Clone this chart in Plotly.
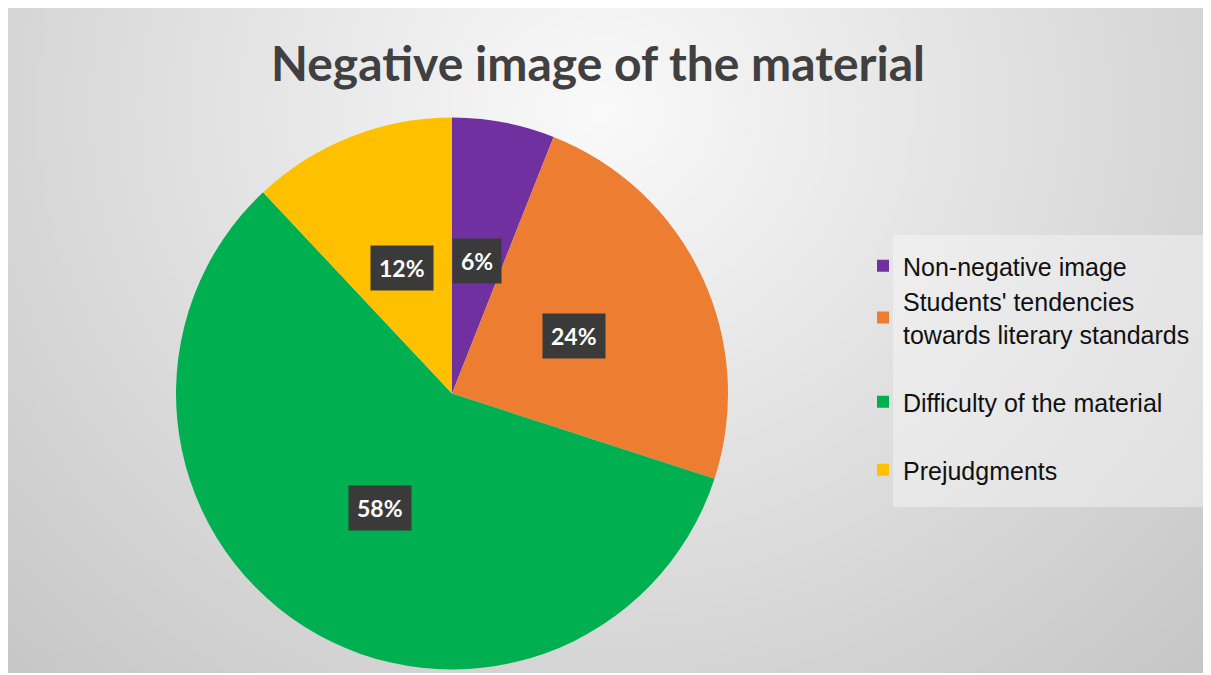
import base64
import math
import struct
import zlib

import numpy as np
import plotly.graph_objects as go

# ---- data ----
labels = [
    "Non-negative image",
    "Students' tendencies<br>towards literary standards",
    "&nbsp;<br>Difficulty of the material<br>&nbsp;",
    "Prejudgments",
]
values = [6, 24, 58, 12]
colors = ["#7030A0", "#ED7D31", "#00B050", "#FFC000"]
title_text = "Negative image of the material"

# figure size (the page adds an 8px body margin on the left/top)
W, H = 1211, 665

# ---- background gradient image (generated, embedded as PNG) ----
def make_png(arr):
    h, w = arr.shape
    raw = b"".join(b"\x00" + arr[i].tobytes() for i in range(h))

    def chunk(tag, data):
        c = struct.pack(">I", len(data)) + tag + data
        return c + struct.pack(">I", zlib.crc32(tag + data) & 0xFFFFFFFF)

    ihdr = struct.pack(">IIBBBBB", w, h, 8, 0, 0, 0, 0)
    return (b"\x89PNG\r\n\x1a\n" + chunk(b"IHDR", ihdr)
            + chunk(b"IDAT", zlib.compress(raw, 9)) + chunk(b"IEND", b""))

gw, gh = 300, 166
gx = np.linspace(0, W, gw)[None, :]
gy = np.linspace(0, H, gh)[:, None]
d = np.sqrt(((gx - 592) / 700.0) ** 2 + ((gy - 100) / 650.0) ** 2)
bg = np.clip(250 - 42 * d, 190, 250).astype(np.uint8)
bg_uri = "data:image/png;base64," + base64.b64encode(make_png(bg)).decode()

# ---- pie geometry (figure pixels) ----
cx_px, cy_px, r_px = 444, 385.5, 276
dom_x = [(cx_px - r_px) / W, (cx_px + r_px) / W]
dom_y = [(H - cy_px - r_px) / H, (H - cy_px + r_px) / H]

fig = go.Figure()
fig.add_trace(go.Pie(
    labels=labels,
    values=values,
    marker=dict(colors=colors, line=dict(width=0)),
    sort=False,
    direction="clockwise",
    rotation=0,
    textinfo="none",
    hoverinfo="percent",
    domain=dict(x=dom_x, y=dom_y),
    showlegend=True,
))

# data labels in dark boxes, placed along each slice's mid-angle
total = float(sum(values))
cum = 0.0
annotations = []
for v in values:
    mid = (cum + v / 2.0) / total * 2 * math.pi
    cum += v
    rr = 0.49 * r_px
    ax = (cx_px + rr * math.sin(mid)) / W
    ay = (H - cy_px + rr * math.cos(mid)) / H
    annotations.append(dict(
        x=ax, y=ay, xref="paper", yref="paper",
        text=f"<b>{round(v / total * 100)}%</b>",
        showarrow=False,
        font=dict(family="Lato, Open Sans, sans-serif", size=23, color="white"),
        bgcolor="#3a3a3a",
        borderpad=8,
        xanchor="center", yanchor="middle",
    ))

fig.update_layout(
    width=W, height=H,
    margin=dict(l=0, r=0, t=0, b=0),
    paper_bgcolor="#dddddd",
    plot_bgcolor="rgba(0,0,0,0)",
    title=dict(
        text=f"<b>{title_text}</b>",
        x=590 / W, xanchor="center",
        y=1 - 56 / H, yanchor="middle",
        font=dict(family="Lato, Open Sans, sans-serif", size=48, color="#404040"),
    ),
    legend=dict(
        x=855 / W, xanchor="left",
        y=1 - 235 / H, yanchor="top",
        bgcolor="rgba(0,0,0,0)",
        font=dict(family="Liberation Sans, Arial, sans-serif", size=25, color="#111111"),
        traceorder="normal",
    ),
    images=[dict(
        source=bg_uri, xref="paper", yref="paper",
        x=0, y=1, sizex=1, sizey=1,
        xanchor="left", yanchor="top", sizing="stretch", layer="below",
    )],
    shapes=[dict(
        type="rect", xref="paper", yref="paper",
        x0=885 / W, x1=1, y0=1 - 499 / H, y1=1 - 227 / H,
        fillcolor="rgba(248,248,248,0.45)", line=dict(width=0), layer="below",
    )],
    annotations=annotations,
)

fig.write_html("out.html")
